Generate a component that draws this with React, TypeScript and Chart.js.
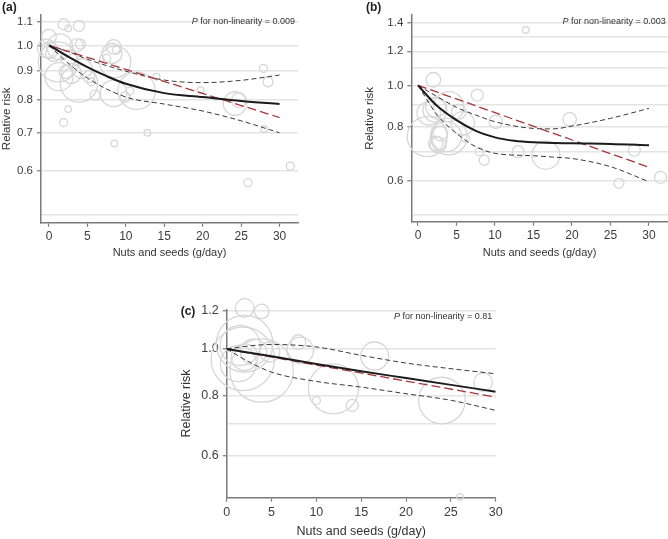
import { useEffect, useRef } from 'react';
import { Chart, registerables } from 'chart.js';
Chart.register(...registerables);

const FONT = "'Liberation Sans', Arial, Helvetica, sans-serif";

// ---------- shared ----------
const xTickValues = [0, 5, 10, 15, 20, 25, 30];
const xTitle = 'Nuts and seeds (g/day)';
const yTitle = 'Relative risk';

// ---------- panel (a) ----------
const curveXA = [0, 2.5, 5, 7.5, 10, 15, 20, 25, 30];
const rrA = [1.0, 0.955, 0.915, 0.882, 0.855, 0.823, 0.81, 0.797, 0.787];
const ciXA = [0, 2.5, 5, 10, 15, 20, 25, 30];
const upperA = [1.0, 0.975, 0.945, 0.9, 0.868, 0.859, 0.867, 0.886];
const lowerA = [1.0, 0.93, 0.875, 0.81, 0.787, 0.765, 0.735, 0.7];
const linXA = [0, 30];
const linA = [1.0, 0.745];
const studyXA = [1.9, 3.9, 2.5, -0.3, 1.4, 1.2, 3.9, 2.9, 3.6, 2.2, 8.4, 8.8, 8.6, 7.5, 8.4, 11.4, 14.0, 19.7, 24.2, 24.7, 27.9, 28.5, 28.0, 31.4, 25.9, 12.8, 8.5, 1.9, 2.5, 6.0, 5.5, 9.9, 0.0, 0.6, 4.3, 1.3, 4.1, 2.6, 10.5, 5.2, 8.2, 0.1];
const studyRRA = [1.09, 1.083, 1.072, 0.988, 0.994, 0.935, 0.856, 0.892, 1.0, 0.898, 0.994, 0.98, 0.935, 0.948, 0.822, 0.831, 0.88, 0.833, 0.789, 0.8, 0.91, 0.862, 0.711, 0.611, 0.571, 0.7, 0.67, 0.73, 0.771, 0.816, 0.862, 0.81, 1.036, 0.968, 0.91, 0.88, 1.005, 0.95, 0.83, 0.88, 0.968, 0.981];
const studyWA = [5.5, 5.5, 3.3, 9.3, 13, 20, 18.7, 10, 6.7, 6.7, 7.3, 4, 15.7, 4, 13.3, 18.7, 3.3, 3.3, 11.7, 7.3, 4, 5, 3.3, 4, 4, 3.3, 3.3, 4, 3.3, 5, 4, 5, 7.3, 8, 10, 14, 5, 8, 4, 6, 10, 8.3];
const yGridA = [0.5, 0.6, 0.7, 0.8, 0.9, 1.0, 1.1];
const yLabelA = [0.6, 0.7, 0.8, 0.9, 1.0, 1.1];
const pTextA = '0.009';

// ---------- panel (b) ----------
const curveXB = [0, 2.5, 5, 7.5, 10, 12.5, 15, 20, 25, 30];
const rrB = [1.0, 0.895, 0.83, 0.784, 0.757, 0.743, 0.737, 0.733, 0.731, 0.726];
const ciXB = [0, 2.5, 5, 7.5, 10, 15, 17.5, 20, 25, 30];
const upperB = [1.0, 0.941, 0.889, 0.853, 0.823, 0.794, 0.792, 0.804, 0.838, 0.884];
const lowerB = [1.0, 0.853, 0.773, 0.72, 0.695, 0.686, 0.681, 0.676, 0.647, 0.597];
const linXB = [0, 30];
const linB = [1.0, 0.645];
const studyXB = [2.0, 14.0, 7.7, 4.0, 2.3, 1.4, 5.3, 5.8, 1.2, 4.0, 2.9, 2.3, 6.2, 10.1, 8.0, 8.6, 13.0, 16.6, 19.7, 28.1, 26.1, 31.5, 2.6, 3.7, 2.2];
const studyRRB = [1.03, 1.345, 0.949, 0.892, 0.89, 0.861, 0.868, 0.816, 0.76, 0.76, 0.773, 0.733, 0.753, 0.823, 0.701, 0.67, 0.701, 0.688, 0.834, 0.707, 0.592, 0.611, 0.727, 0.76, 0.876];
const studyWB = [7.3, 3.3, 6, 15, 10, 11.7, 7.3, 11.7, 20, 18.3, 7.3, 7.3, 4, 6.7, 4, 5, 6, 14, 6.7, 6, 5, 6, 8, 15, 12];
const yGridB = [0.5, 0.6, 0.7, 0.8, 0.9, 1.0, 1.1, 1.2, 1.3, 1.4];
const yLabelB = [0.6, 0.8, 1.0, 1.2, 1.4];
const pTextB = '0.003';

// ---------- panel (c) ----------
const curveXC = [0, 5, 10, 15, 20, 25, 30];
const rrC = [1.0, 0.966, 0.931, 0.899, 0.87, 0.842, 0.815];
const ciXC = [0, 2.5, 5, 10, 15, 20, 25, 30];
const upperC = [1.0, 1.015, 1.022, 1.01, 0.97, 0.935, 0.91, 0.888];
const lowerC = [1.0, 0.94, 0.895, 0.856, 0.833, 0.807, 0.782, 0.745];
const linXC = [0, 30];
const linC = [1.0, 0.794];
const studyXC = [2.0, 3.9, 2.0, 1.5, 2.0, 1.8, 3.9, 4.8, 8.0, 8.2, 11.9, 10.0, 14.0, 16.5, 24.0, 28.6, 26.0, 1.3, 3.0];
const studyRRC = [1.218, 1.198, 1.026, 1.017, 0.962, 0.954, 0.902, 0.986, 1.034, 0.993, 0.826, 0.781, 0.763, 0.967, 0.781, 0.853, 0.492, 0.932, 0.986];
const studyWC = [9.3, 7.3, 28.3, 20, 13.3, 31.7, 31.7, 10, 7.3, 13.3, 25, 4, 6, 14, 23.3, 9.3, 3.3, 18, 13];
const yGridC = [0.6, 0.7, 0.8, 1.0, 1.2];
const yLabelC = [0.6, 0.8, 1.0, 1.2];
const pTextC = '0.81';

type Layout = {
  left: number; top: number; w: number; h: number;
  pad: { left: number; top: number; right: number; bottom: number };
  yWidth: number; xHeight: number; xTitlePad: number;
  xMin: number; xMax: number; yMin: number; yMax: number;
  label: string; labelX: number; labelY: number; pRight: number; pY: number;
  yTickSize: number; xTickSize: number; yTitleSize: number; xTitleSize: number;
};

type Panel = {
  curveX: number[]; rr: number[]; ciX: number[]; upper: number[]; lower: number[];
  linX: number[]; lin: number[]; sx: number[]; sy: number[]; sw: number[];
  yGrid: number[]; yLabels: number[]; p: string; layout: Layout;
};

const panels: Panel[] = [
  {
    curveX: curveXA, rr: rrA, ciX: ciXA, upper: upperA, lower: lowerA, linX: linXA, lin: linA,
    sx: studyXA, sy: studyRRA, sw: studyWA, yGrid: yGridA, yLabels: yLabelA, p: pTextA,
    layout: {
      left: 0, top: 0, w: 334, h: 270,
      pad: { left: 0, top: 15, right: 36, bottom: 0 },
      yWidth: 41, xHeight: 47.3, xTitlePad: 10,
      xMin: -1.04, xMax: 32.4, yMin: 0.485, yMax: 1.132,
      label: '(a)', labelX: 2, labelY: 11, pRight: 295, pY: 24,
      yTickSize: 11.5, xTickSize: 12, yTitleSize: 11.5, xTitleSize: 11,
    },
  },
  {
    curveX: curveXB, rr: rrB, ciX: ciXB, upper: upperB, lower: lowerB, linX: linXB, lin: linB,
    sx: studyXB, sy: studyRRB, sw: studyWB, yGrid: yGridB, yLabels: yLabelB, p: pTextB,
    layout: {
      left: 334, top: 0, w: 334, h: 270,
      pad: { left: 29.3, top: 15, right: 0, bottom: 0 },
      yWidth: 48, xHeight: 48.3, xTitlePad: 10,
      xMin: -0.87, xMax: 32.47, yMin: 0.482, yMax: 1.457,
      label: '(b)', labelX: 32, labelY: 11, pRight: 331.7, pY: 24,
      yTickSize: 11.5, xTickSize: 12, yTitleSize: 11.5, xTitleSize: 11,
    },
  },
  {
    curveX: curveXC, rr: rrC, ciX: ciXC, upper: upperC, lower: lowerC, linX: linXC, lin: linC,
    sx: studyXC, sy: studyRRC, sw: studyWC, yGrid: yGridC, yLabels: yLabelC, p: pTextC,
    layout: {
      left: 160, top: 290, w: 360, h: 249,
      pad: { left: 19.2, top: 19.3, right: 24.3, bottom: 0 },
      yWidth: 47.5, xHeight: 41.3, xTitlePad: 0,
      xMin: 0, xMax: 30, yMin: 0.49, yMax: 1.21,
      label: '(c)', labelX: 20.7, labelY: 25, pRight: 332.3, pY: 29.3,
      yTickSize: 12.5, xTickSize: 12.5, yTitleSize: 12.5, xTitleSize: 12.5,
    },
  },
];

const pts = (xs: number[], ys: number[]) => xs.map((x, i) => ({ x, y: ys[i] }));

function makeConfig(p: Panel): any {
  const L = p.layout;
  const textPlugin = {
    id: 'panelText',
    afterDraw(chart: any) {
      const ctx = chart.ctx as CanvasRenderingContext2D;
      ctx.save();
      ctx.fillStyle = '#222';
      ctx.textBaseline = 'alphabetic';
      ctx.textAlign = 'left';
      ctx.font = `bold 12px ${FONT}`;
      ctx.fillText(L.label, L.labelX, L.labelY);
      const rest = ` for non-linearity = ${p.p}`;
      ctx.font = `italic 9px ${FONT}`;
      const wP = ctx.measureText('P').width;
      ctx.font = `9px ${FONT}`;
      const wR = ctx.measureText(rest).width;
      const x0 = L.pRight - wP - wR;
      ctx.fillStyle = '#333';
      ctx.font = `italic 9px ${FONT}`;
      ctx.fillText('P', x0, L.pY);
      ctx.font = `9px ${FONT}`;
      ctx.fillText(rest, x0 + wP, L.pY);
      ctx.restore();
    },
  };
  const axisColor = '#7a7a7a';
  return {
    type: 'line',
    data: {
      datasets: [
        {
          type: 'line', data: pts(p.curveX, p.rr), borderColor: '#1b1b1b', borderWidth: 2,
          pointRadius: 0, fill: false, cubicInterpolationMode: 'monotone', order: 0,
        },
        {
          type: 'line', data: pts(p.linX, p.lin), borderColor: '#a8353a', borderWidth: 1.3,
          borderDash: [9, 4], pointRadius: 0, fill: false, order: 1,
        },
        {
          type: 'line', data: pts(p.ciX, p.upper), borderColor: '#3a3a3a', borderWidth: 1,
          borderDash: [5, 3], pointRadius: 0, fill: false, cubicInterpolationMode: 'monotone', order: 2,
        },
        {
          type: 'line', data: pts(p.ciX, p.lower), borderColor: '#3a3a3a', borderWidth: 1,
          borderDash: [5, 3], pointRadius: 0, fill: false, cubicInterpolationMode: 'monotone', order: 2,
        },
        {
          type: 'bubble', data: p.sx.map((x, i) => ({ x, y: p.sy[i], r: p.sw[i] })),
          borderColor: '#d7d7d7', backgroundColor: 'rgba(0,0,0,0)', borderWidth: 1.3,
          clip: false, order: 10,
        },
      ],
    },
    options: {
      responsive: false,
      maintainAspectRatio: false,
      animation: false,
      events: [],
      layout: { padding: L.pad, autoPadding: false },
      plugins: { legend: { display: false }, tooltip: { enabled: false } },
      scales: {
        x: {
          type: 'linear', min: L.xMin, max: L.xMax,
          afterBuildTicks: (s: any) => { s.ticks = xTickValues.map((v) => ({ value: v })); },
          afterFit: (s: any) => { s.height = L.xHeight; },
          grid: { drawOnChartArea: false, drawTicks: true, tickLength: 4, tickColor: axisColor, tickWidth: 1.2 },
          border: { color: axisColor, width: 1.5 },
          ticks: {
            font: { family: FONT, size: L.xTickSize }, color: '#3d3d3d', padding: 3,
            maxRotation: 0, autoSkip: false, callback: (v: any) => String(v),
          },
          title: {
            display: true, text: xTitle, font: { family: FONT, size: L.xTitleSize }, color: '#333',
            padding: { top: 0, bottom: L.xTitlePad },
          },
        },
        y: {
          type: 'logarithmic', min: L.yMin, max: L.yMax,
          afterBuildTicks: (s: any) => { s.ticks = p.yGrid.map((v) => ({ value: v })); },
          afterFit: (s: any) => { s.width = L.yWidth; },
          grid: {
            drawOnChartArea: true, drawTicks: true, tickLength: 4, color: '#e4e4e4', lineWidth: 1.5,
            tickColor: (c: any) => (c.tick && p.yLabels.includes(c.tick.value) ? axisColor : 'rgba(0,0,0,0)'),
            tickWidth: 1.2,
          },
          border: { color: axisColor, width: 1.5 },
          ticks: {
            font: { family: FONT, size: L.yTickSize }, color: '#3d3d3d', padding: 4, autoSkip: false,
            callback: (v: any) => (p.yLabels.includes(v) ? Number(v).toFixed(1) : ''),
          },
          title: {
            display: true, text: yTitle, font: { family: FONT, size: L.yTitleSize }, color: '#333',
            padding: { top: 0, bottom: 0 },
          },
        },
      },
    },
    plugins: [textPlugin],
  };
}

export default function App() {
  const r0 = useRef<HTMLCanvasElement>(null);
  const r1 = useRef<HTMLCanvasElement>(null);
  const r2 = useRef<HTMLCanvasElement>(null);
  const refs = [r0, r1, r2];
  useEffect(() => {
    const charts = panels.map((p, i) => new Chart(refs[i].current as HTMLCanvasElement, makeConfig(p)));
    return () => charts.forEach((c) => c.destroy());
  }, []);
  return (
    <div style={{ position: 'fixed', left: 0, top: 0, width: 668, height: 539, background: '#fff', overflow: 'hidden' }}>
      {panels.map((p, i) => (
        <canvas
          key={i}
          ref={refs[i]}
          width={p.layout.w}
          height={p.layout.h}
          style={{ position: 'absolute', left: p.layout.left, top: p.layout.top, width: p.layout.w, height: p.layout.h, display: 'block' }}
        />
      ))}
    </div>
  );
}
